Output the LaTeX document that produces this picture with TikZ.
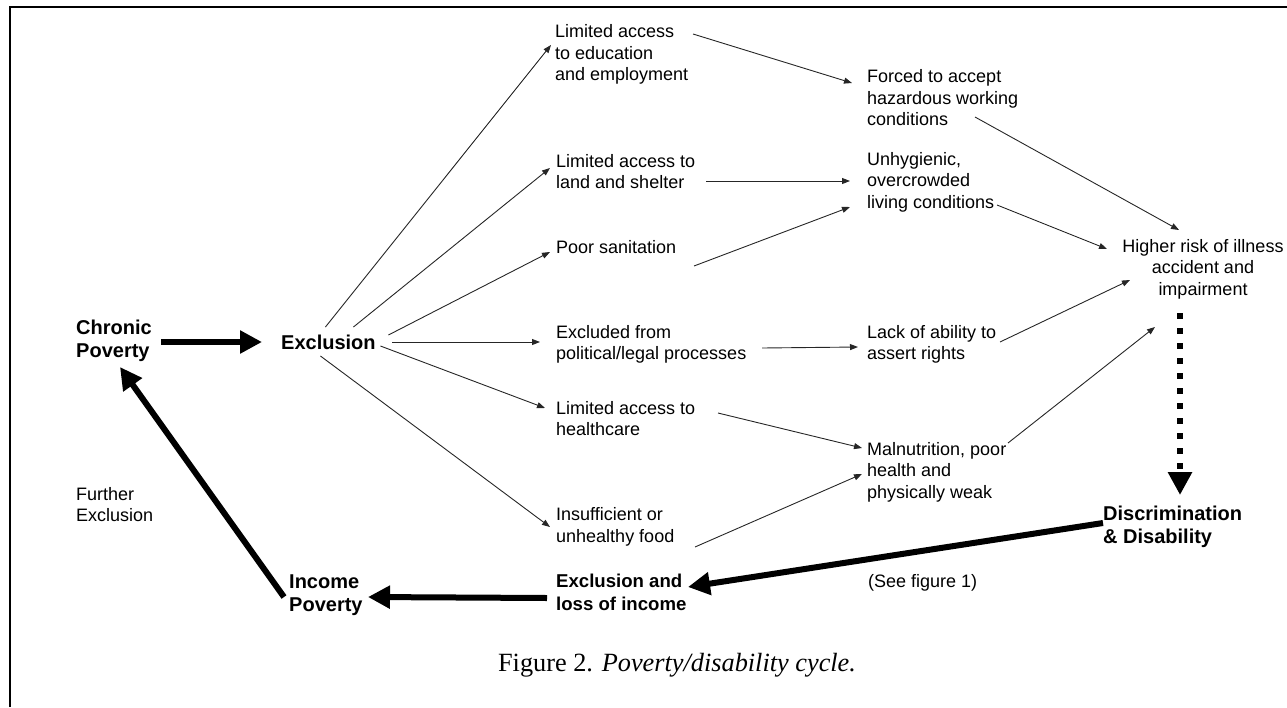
\documentclass[tikz,border=0pt]{standalone}
\usepackage{fontspec}
\setmainfont{Liberation Sans}
\newfontfamily\capfont{Liberation Serif}
\usetikzlibrary{arrows.meta,calc}
\begin{document}
\begin{tikzpicture}[x=1pt,y=-1pt,
  txt/.style={inner sep=0pt, anchor=west, align=left, font=\fontsize{18}{21.5}\selectfont},
  bld/.style={inner sep=0pt, anchor=west, align=left, font=\fontsize{20}{23}\selectfont\bfseries},
  thinarrow/.style={line width=0.9pt, draw=black!85, -{Triangle[length=8pt,width=6pt]}},
  thickarrow/.style={line width=6pt, -{Triangle[length=22pt,width=22pt]}},
  frameline/.style={line width=2.8pt}]
\useasboundingbox (0,0) rectangle (1287,707);
\draw[frameline] (10,707) -- (10,7) -- (1287,7);

% main nodes
\node[bld] (chronic) at (76,341) {Chronic\\Poverty};
\node[bld] (exclusion) at (281,342) {Exclusion};
\node[bld] (income) at (289,595.5) {Income\\Poverty};
\node[bld] (discr) at (1103,526.5) {Discrimination\\\& Disability};
\node[bld, font=\fontsize{18.6}{23}\selectfont\bfseries] (exloss) at (556,592.5) {Exclusion and\\loss of income};
\node[txt] (further) at (76,504.5) {Further\\Exclusion};
\node[txt] (seefig) at (868,583) {(See figure 1)};

% column 1
\node[txt] (edu) at (555,54.5) {Limited access\\to education\\and employment};
\node[txt] (land) at (556,171.5) {Limited access to\\land and shelter};
\node[txt] (sanit) at (556,247) {Poor sanitation};
\node[txt] (pol) at (556,344.5) {Excluded from\\political/legal processes};
\node[txt] (health) at (556,418.5) {Limited access to\\healthcare};
\node[txt] (food) at (556,527) {Insufficient or\\unhealthy food};

% column 2
\node[txt] (forced) at (867,98) {Forced to accept\\hazardous working\\conditions};
\node[txt] (unhyg) at (867,182) {Unhygienic,\\overcrowded\\living conditions};
\node[txt] (lack) at (867,344.5) {Lack of ability to\\assert rights};
\node[txt] (maln) at (867,472) {Malnutrition, poor\\health and\\physically weak};

% column 3
\node[txt, anchor=center, align=center] (higher) at (1203,269) {Higher risk of illness\\accident and\\impairment};

% caption
\node[inner sep=0pt, font=\capfont\fontsize{26.3}{31}\selectfont] (caption) at (677,665) {Figure 2. \textit{Poverty/disability cycle.}};

% thin arrows from Exclusion
\draw[thinarrow] ($(exclusion.center)+(-3,-15)$) -- ($(edu.west)+(-4,-9.5)$);
\draw[thinarrow] ($(exclusion.center)+(25,-15)$) -- ($(land.west)+(-6,-3.5)$);
\draw[thinarrow] ($(exclusion.center)+(60,-7)$) -- ($(sanit.west)+(-6,5)$);
\draw[thinarrow] ($(exclusion.center)+(64,0)$) -- ($(pol.west)+(-16,-2.5)$);
\draw[thinarrow] ($(exclusion.center)+(52,4)$) -- ($(health.west)+(-11,-10.5)$);
\draw[thinarrow] ($(exclusion.center)+(-8,14)$) -- ($(food.west)+(-6,0)$);

% column 1 -> column 2
\draw[thinarrow] ($(edu.west)+(138,-20.5)$) -- ($(forced.west)+(-15,-15)$);
\draw[thinarrow] ($(land.west)+(150,9.5)$) -- ($(unhyg.west)+(-17,-1)$);
\draw[thinarrow] ($(sanit.west)+(138,19)$) -- ($(unhyg.west)+(-17,25)$);
\draw[thinarrow] ($(pol.west)+(206,3.5)$) -- ($(lack.west)+(-9,2.5)$);
\draw[thinarrow] ($(health.west)+(162,-5.5)$) -- ($(maln.west)+(-5,-24)$);
\draw[thinarrow] ($(food.west)+(139,20)$) -- ($(maln.west)+(-5,2)$);

% column 2 -> higher
\draw[thinarrow] ($(forced.west)+(108,19)$) -- ($(higher.center)+(-24,-39)$);
\draw[thinarrow] ($(unhyg.west)+(130,23)$) -- ($(higher.center)+(-96,-20)$);
\draw[thinarrow] ($(lack.west)+(133,-2.5)$) -- ($(higher.center)+(-73,11)$);
\draw[thinarrow] ($(maln.west)+(141,-29)$) -- ($(higher.center)+(-48,58)$);

% thick cycle arrows
\draw[thickarrow] ($(chronic.west)+(85,1)$) -- ($(exclusion.west)+(-19,0)$);
\draw[line width=6pt, dash pattern=on 6pt off 9pt, -{Triangle[length=23pt,width=23pt]}]
  ($(higher.center)+(-23,44)$) -- ($(discr.west)+(77,-31.5)$);
\draw[thickarrow] ($(discr.west)+(0,-3.5)$) -- ($(exloss.west)+(132,-5.5)$);
\draw[thickarrow] ($(exloss.west)+(-9,5.5)$) -- ($(income.west)+(79,1.5)$);
\draw[thickarrow] ($(income.west)+(-5,1.5)$) -- ($(chronic.west)+(44,26)$);
\end{tikzpicture}
\end{document}
